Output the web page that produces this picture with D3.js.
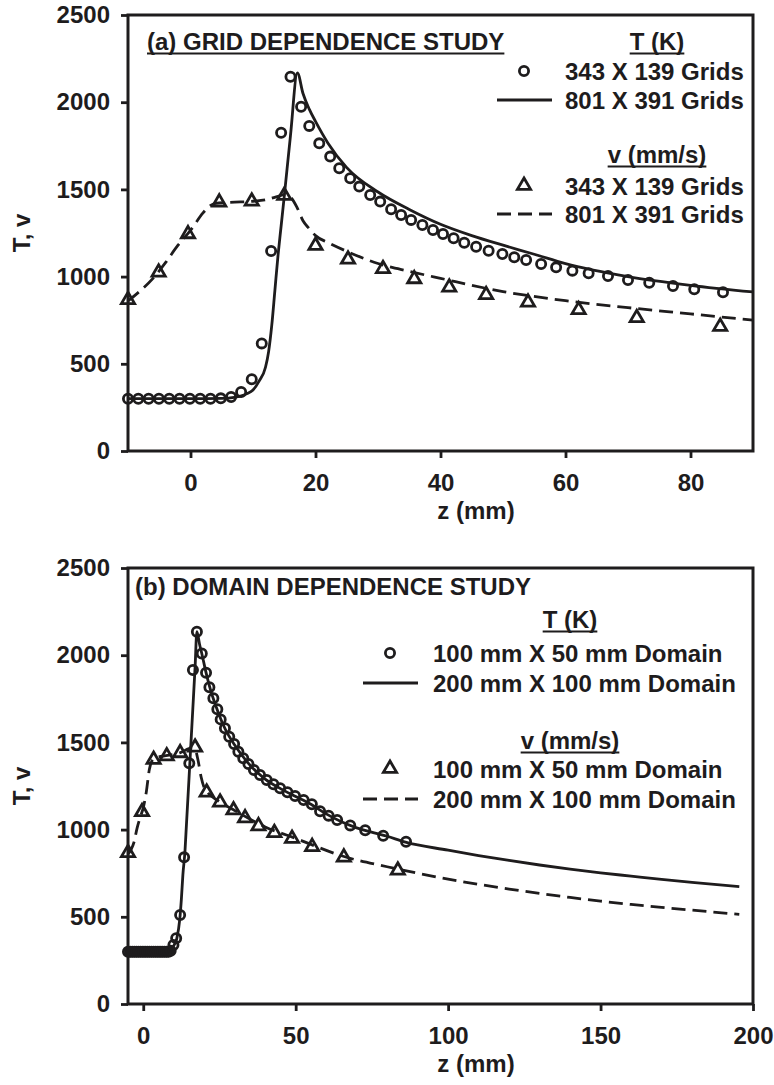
<!DOCTYPE html>
<html>
<head>
<meta charset="utf-8">
<script src="https://cdn.jsdelivr.net/npm/d3@7"></script>
<style>
  html, body { margin: 0; padding: 0; background: #fff; }
  svg { display: block; }
</style>
</head>
<body>
<svg id="chart" width="774" height="1085"></svg>
<script>
// ---------------- shared axis values ----------------
const yTicks = [0, 500, 1000, 1500, 2000, 2500];
const aXTicks = [0, 20, 40, 60, 80];
const bXTicks = [0, 50, 100, 150, 200];

// ---------------- (a) grid dependence ----------------
// T (K), 343 x 139 grid (circles)
const aCoarseTz = [-10, -8.35, -6.7, -5.05, -3.4, -1.75, -0.1, 1.55, 3.2, 4.85, 6.5, 8.1, 9.8, 11.4, 12.9,
  14.5, 16.0, 17.7, 19.0, 20.6, 22.35, 23.8, 25.55, 27.0, 28.75, 30.35, 32.1, 33.7, 35.3, 37.1, 38.8,
  40.4, 42.1, 43.8, 45.7, 47.7, 49.9, 51.8, 53.7, 56.1, 58.5, 61.1, 63.7, 66.8, 70.0, 73.4, 77.2, 80.6, 85.2];
const aCoarseT = [300, 300, 300, 300, 300, 300, 300, 300, 300, 302, 310, 338, 411, 617, 1147,
  1825, 2146, 1974, 1864, 1764, 1688, 1621, 1564, 1516, 1468, 1430, 1386, 1353, 1325, 1296, 1267,
  1244, 1220, 1194, 1171, 1148, 1130, 1111, 1095, 1072, 1053, 1034, 1019, 1003, 980, 965, 946, 927, 910];
// T (K), 801 x 391 grid (solid line)
const aFineTz = [-10, 0, 5, 7, 8, 9, 10, 11, 12, 12.5, 13, 13.5, 14, 14.5, 15, 16, 17.1, 18, 19, 20,
  22, 25, 30, 35, 40, 45, 50, 55, 60, 70, 80, 90];
const aFineT = [300, 300, 302, 308, 315, 328, 350, 402, 480, 570, 720, 920, 1120, 1290, 1460, 1810, 2168, 2050, 1960, 1890,
  1765, 1625, 1485, 1385, 1300, 1235, 1180, 1128, 1074, 1000, 950, 912];
// v (mm/s), 343 x 139 grid (triangles)
const aCoarseVz = [-10, -5.1, -0.4, 4.6, 9.8, 15.0, 20.0, 25.2, 30.8, 35.8, 41.4, 47.3, 54.0, 62.1, 71.4, 84.75];
const aCoarseV = [870, 1028, 1248, 1430, 1435, 1468, 1181, 1102, 1048, 990, 942, 899, 856, 813, 767, 717];
// v (mm/s), 801 x 391 grid (dashed line)
const aFineVz = [-10, -8, -6, -4, -2, 0, 2, 3, 4, 6, 8, 10, 12, 14, 15, 16, 17, 18, 19, 20,
  22, 25, 30, 35, 40, 50, 60, 70, 80, 90];
const aFineV = [860, 920, 990, 1080, 1180, 1265, 1365, 1403, 1420, 1425, 1428, 1432, 1440, 1460, 1470, 1455, 1400, 1320, 1275, 1235,
  1195, 1145, 1075, 1030, 990, 914, 862, 822, 786, 750];

// ---------------- (b) domain dependence ----------------
// T (K), 100 mm x 50 mm domain (circles)
const bCoarseTz = [-5.0, -4.3, -3.6, -2.9, -2.2, -1.5, -0.8, -0.1, 0.6, 1.3, 2.0, 2.7, 3.4, 4.1, 4.8, 5.5, 6.2, 6.9, 7.6, 8.3,
  9.0, 9.9, 10.8, 12.1, 13.4, 15.1, 16.3, 17.6, 19.2, 20.6, 21.7, 23.0, 24.3, 25.4, 26.8, 28.2, 29.8, 31.2, 32.8, 34.5,
  36.3, 38.3, 40.5, 42.7, 44.9, 47.3, 49.8, 52.6, 55.3, 58.0, 60.8, 63.6, 67.9, 72.8, 78.7, 86.2];
const bCoarseT = [300, 300, 300, 300, 300, 300, 300, 300, 300, 300, 300, 300, 300, 300, 300, 300, 300, 300, 300, 300,
  305, 338, 377, 510, 841, 1380, 1915, 2135, 2010, 1900, 1816, 1753, 1690, 1632, 1581, 1532, 1491, 1447, 1409, 1376,
  1342, 1313, 1284, 1260, 1237, 1214, 1193, 1170, 1145, 1105, 1080, 1055, 1024, 996, 965, 930];
// T (K), 200 mm x 100 mm domain (solid line)
const bFineTz = [-5, 5, 8, 9, 10, 11, 12, 12.5, 13, 13.7, 14, 15, 16, 17, 17.6, 18.5, 19.2, 20.6, 22, 24, 26, 28, 30, 32, 35,
  40, 45, 50, 55, 60, 65, 70, 80, 86, 100, 110, 120, 130, 140, 150, 160, 170, 180, 195.5];
const bFineT = [300, 300, 303, 312, 335, 375, 490, 600, 740, 880, 975, 1290, 1610, 1930, 2135, 2060, 2010, 1900, 1805, 1700, 1610, 1540, 1485, 1435, 1370,
  1290, 1235, 1190, 1145, 1090, 1045, 1010, 962, 928, 882, 851, 823, 797, 773, 752, 733, 714, 697, 673];
// v (mm/s), 100 mm x 50 mm domain (triangles)
const bCoarseVz = [-5, -0.4, 3.4, 7.7, 12.1, 17.0, 20.8, 25.2, 29.6, 33.4, 37.8, 43.0, 48.8, 55.4, 65.8, 83.5];
const bCoarseV = [870, 1105, 1405, 1425, 1443, 1475, 1217, 1160, 1115, 1070, 1024, 985, 952, 905, 845, 770];
// v (mm/s), 200 mm x 100 mm domain (dashed line)
const bFineVz = [-5, -4, -3, -2, -1, 0, 1, 2, 3, 4, 8, 12, 16, 17, 18, 19, 20, 21, 25, 30, 35, 40, 50, 55, 65, 80, 90,
  100, 110, 120, 130, 140, 150, 160, 170, 180, 195.5];
const bFineV = [860, 885, 930, 1010, 1070, 1125, 1215, 1345, 1398, 1412, 1425, 1440, 1468, 1460, 1395, 1300, 1240, 1215, 1160, 1110, 1060, 1015, 950, 915, 850, 787, 750,
  716, 686, 659, 634, 611, 590, 571, 554, 538, 514];

// ---------------- text ----------------
const aTitle = "(a) GRID DEPENDENCE STUDY";
const bTitle = "(b) DOMAIN DEPENDENCE STUDY";
const tHeader = "T (K)";
const vHeader = "v (mm/s)";
const aSeriesNames = ["343 X 139 Grids", "801 X 391 Grids"];
const bSeriesNames = ["100 mm X 50 mm Domain", "200 mm X 100 mm Domain"];
const yTitle = "T, v";
const xTitle = "z (mm)";

// ---------------- drawing ----------------
const INK = "#1e1c1d";
const FONT = "'Liberation Sans', Arial, Helvetica, sans-serif";
const FS = 24;
const svg = d3.select("#chart");

const triPath = "M0,-7L6.6,4.4L-6.6,4.4Z";
const MARK_R = 4.6;
const MARK_W = 2.8;
const LINE_W = 2.8;

function labelText(g, x, y, str, anchor, underline) {
  const t = g.append("text")
    .attr("x", x).attr("y", y)
    .attr("text-anchor", anchor)
    .attr("font-family", FONT).attr("font-weight", "bold").attr("font-size", FS)
    .attr("fill", INK)
    .text(str);
  if (underline) {
    const w = t.node().getComputedTextLength();
    const x0 = anchor === "middle" ? x - w / 2 : (anchor === "end" ? x - w : x);
    g.append("line")
      .attr("x1", x0).attr("x2", x0 + w)
      .attr("y1", y + 3.5).attr("y2", y + 3.5)
      .attr("stroke", INK).attr("stroke-width", 2);
  }
  return t;
}

function drawPanel(p) {
  const L = 128, R = 753;
  const g = svg.append("g");
  const x = d3.scaleLinear().domain(p.xDomain).range([L, R]);
  const y = d3.scaleLinear().domain([0, 2500]).range([p.bottom, p.top]);

  const line = d3.line().x(d => x(d[0])).y(d => y(d[1])).curve(d3.curveMonotoneX);

  // simulation curves
  g.append("path").datum(d3.zip(p.fineTz, p.fineT))
    .attr("d", line).attr("fill", "none")
    .attr("stroke", INK).attr("stroke-width", LINE_W);
  g.append("path").datum(d3.zip(p.fineVz, p.fineV))
    .attr("d", line).attr("fill", "none")
    .attr("stroke", INK).attr("stroke-width", LINE_W)
    .attr("stroke-dasharray", "14,7");

  // coarse-case markers
  g.append("g").selectAll("circle")
    .data(d3.zip(p.coarseTz, p.coarseT))
    .join("circle")
    .attr("cx", d => x(d[0])).attr("cy", d => y(d[1]))
    .attr("r", MARK_R).attr("fill", "none")
    .attr("stroke", INK).attr("stroke-width", MARK_W);
  g.append("g").selectAll("path")
    .data(d3.zip(p.coarseVz, p.coarseV))
    .join("path")
    .attr("d", triPath)
    .attr("transform", d => `translate(${x(d[0])},${y(d[1])})`)
    .attr("fill", "none")
    .attr("stroke", INK).attr("stroke-width", MARK_W);

  // axes
  const fmt = d3.format("d");
  const yAxis = d3.axisLeft(y).tickValues(yTicks).tickFormat(fmt)
    .tickSize(7).tickPadding(11).tickSizeOuter(0);
  const xAxis = d3.axisBottom(x).tickValues(p.xTicks).tickFormat(fmt)
    .tickSize(7).tickPadding(16).tickSizeOuter(0);
  const ya = g.append("g").attr("transform", `translate(${L},0)`).call(yAxis);
  const xa = g.append("g").attr("transform", `translate(0,${p.bottom})`).call(xAxis);
  [ya, xa].forEach(a => {
    a.select(".domain").remove();
    a.selectAll(".tick line").attr("stroke", INK).attr("stroke-width", 2.8);
    a.selectAll(".tick text")
      .attr("font-family", FONT).attr("font-weight", "bold").attr("font-size", FS)
      .attr("fill", INK);
  });

  // frame
  g.append("rect")
    .attr("x", L).attr("y", p.top)
    .attr("width", R - L).attr("height", p.bottom - p.top)
    .attr("fill", "none").attr("stroke", INK).attr("stroke-width", 3);

  // axis titles
  g.append("text")
    .attr("transform", `translate(30,${(p.top + p.bottom) / 2}) rotate(-90)`)
    .attr("text-anchor", "middle")
    .attr("font-family", FONT).attr("font-weight", "bold").attr("font-size", FS)
    .attr("fill", INK).text(yTitle);
  g.append("text")
    .attr("x", p.xTitleX).attr("y", p.bottom + 68)
    .attr("text-anchor", "middle")
    .attr("font-family", FONT).attr("font-weight", "bold").attr("font-size", FS)
    .attr("fill", INK).text(xTitle);

  // panel title
  labelText(g, p.titleX, p.titleY, p.title, "start", p.titleUnderline);

  // legend
  const lg = p.legend;
  labelText(g, lg.headX, lg.rows[0], tHeader, "middle", true);
  labelText(g, lg.textX, lg.rows[1], p.names[0], "start", false);
  labelText(g, lg.textX, lg.rows[2], p.names[1], "start", false);
  labelText(g, lg.headX, lg.rows[3], vHeader, "middle", true);
  labelText(g, lg.textX, lg.rows[4], p.names[0], "start", false);
  labelText(g, lg.textX, lg.rows[5], p.names[1], "start", false);

  g.append("circle")
    .attr("cx", lg.symX).attr("cy", lg.rows[1] - 9)
    .attr("r", MARK_R).attr("fill", "none")
    .attr("stroke", INK).attr("stroke-width", MARK_W);
  g.append("line")
    .attr("x1", lg.symX - 27).attr("x2", lg.symX + 28)
    .attr("y1", lg.rows[2] - 9).attr("y2", lg.rows[2] - 9)
    .attr("stroke", INK).attr("stroke-width", LINE_W);
  g.append("path")
    .attr("d", triPath)
    .attr("transform", `translate(${lg.symX},${lg.rows[4] - 10})`)
    .attr("fill", "none").attr("stroke", INK).attr("stroke-width", MARK_W);
  g.append("line")
    .attr("x1", lg.symX - 27).attr("x2", lg.symX + 28)
    .attr("y1", lg.rows[5] - 9).attr("y2", lg.rows[5] - 9)
    .attr("stroke", INK).attr("stroke-width", LINE_W)
    .attr("stroke-dasharray", "14,7");
}

drawPanel({
  top: 15, bottom: 451, xDomain: [-10, 90], xTicks: aXTicks,
  coarseTz: aCoarseTz, coarseT: aCoarseT, fineTz: aFineTz, fineT: aFineT,
  coarseVz: aCoarseVz, coarseV: aCoarseV, fineVz: aFineVz, fineV: aFineV,
  title: aTitle, titleX: 147, titleY: 50, titleUnderline: true,
  names: aSeriesNames, xTitleX: 476,
  legend: { headX: 657, textX: 565, symX: 524, rows: [50, 80, 109, 163, 195, 223] }
});

drawPanel({
  top: 568, bottom: 1004, xDomain: [-5, 200], xTicks: bXTicks,
  coarseTz: bCoarseTz, coarseT: bCoarseT, fineTz: bFineTz, fineT: bFineT,
  coarseVz: bCoarseVz, coarseV: bCoarseV, fineVz: bFineVz, fineV: bFineV,
  title: bTitle, titleX: 135, titleY: 595, titleUnderline: false,
  names: bSeriesNames, xTitleX: 476,
  legend: { headX: 570, textX: 433, symX: 390, rows: [628, 662, 692, 749, 778, 808] }
});
</script>
</body>
</html>
